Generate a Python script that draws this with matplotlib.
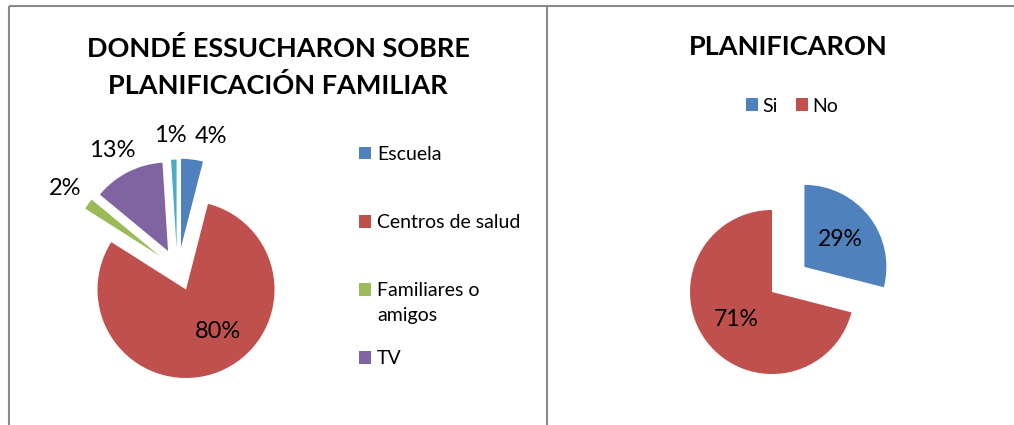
import matplotlib
matplotlib.use("Agg")
import matplotlib.pyplot as plt
import numpy as np

# --------------------------------------------------
# data
# --------------------------------------------------
fuente_labels = ["Escuela", "Centros de salud", "Familiares o\namigos", "TV", "Otros"]
fuente_pct = [4, 80, 2, 13, 1]
fuente_in_legend = 4  # only the first four entries show in the legend

plan_labels = ["Si", "No"]
plan_pct = [29, 71]

title_left = "DONDÉ ESSUCHARON SOBRE\nPLANIFICACIÓN FAMILIAR"
title_right = "PLANIFICARON"

# --------------------------------------------------
# style
# --------------------------------------------------
W, H = 1014, 425
FONT = ["Lato", "DejaVu Sans"]
plt.rcParams["font.family"] = FONT

colors_left = ["#4F81BD", "#C0504D", "#9BBB59", "#8064A2", "#4BACC6"]
colors_right = ["#4F81BD", "#C0504D"]
border = "#8a8a8a"

# outside labels: angular nudge (deg) and distance (in radii)
label_shift_left = [-2, 0, -4, 1, 4]
label_dist_left = [1.75, 0, 1.78, 1.78, 1.75]
# excel pushes the exploded slices slightly off their bisector (deg)
explode_rot_left = [14, 0, -16, -2, 11]

fig = plt.figure(figsize=(W / 100, H / 100), dpi=100)
ax = fig.add_axes([0, 0, 1, 1])


def ypix(y_img):
    # image rows (top down) -> data y (bottom up)
    return H - y_img


# --------------------------------------------------
# left pie
# --------------------------------------------------
r_left = 88.5
c_left = (186, ypix(289.5))
expl_frac = 0.48
expl_left = [0 if p == max(fuente_pct) else expl_frac * r_left for p in fuente_pct]

wedges_l, _, auto_l = ax.pie(
    fuente_pct, explode=expl_left, colors=colors_left, startangle=90,
    counterclock=False, center=c_left, radius=r_left,
    autopct="%1.0f%%", pctdistance=1.3,
    wedgeprops=dict(linewidth=0), textprops=dict(fontsize=17, color="black"),
)
big = int(np.argmax(fuente_pct))
for i, (w, t) in enumerate(zip(wedges_l, auto_l)):
    bis = (w.theta1 + w.theta2) / 2
    if i == big:
        # the big slice keeps its label inside
        mid = np.deg2rad(bis + 16)
        t.set_position((w.center[0] + 0.6 * r_left * np.cos(mid),
                        w.center[1] + 0.6 * r_left * np.sin(mid)))
        continue
    ang = np.deg2rad(bis + explode_rot_left[i])
    w.set_center((c_left[0] + expl_left[i] * np.cos(ang),
                  c_left[1] + expl_left[i] * np.sin(ang)))
    mid = np.deg2rad(bis + label_shift_left[i])
    t.set_position((c_left[0] + label_dist_left[i] * r_left * np.cos(mid),
                    c_left[1] + label_dist_left[i] * r_left * np.sin(mid)))

# --------------------------------------------------
# right pie
# --------------------------------------------------
r_right = 82
c_right = (772, ypix(292))
expl_right = [0.5 * r_right, 0]

wedges_r, _, auto_r = ax.pie(
    plan_pct, explode=expl_right, colors=colors_right, startangle=90,
    counterclock=False, center=c_right, radius=r_right,
    autopct="%1.0f%%", pctdistance=0.55,
    wedgeprops=dict(linewidth=0), textprops=dict(fontsize=16.5, color="black"),
)

ax.set_xlim(0, W)
ax.set_ylim(0, H)
ax.set_aspect("equal")
ax.axis("off")

# --------------------------------------------------
# titles
# --------------------------------------------------
ax.text(278, ypix(67), title_left, ha="center", va="center", fontsize=19.5,
        fontweight="bold", linespacing=1.6)
ax.text(788, ypix(47), title_right, ha="center", va="center", fontsize=19.5,
        fontweight="bold")

# --------------------------------------------------
# legends
# --------------------------------------------------
first_lines = [l.split("\n")[0] for l in fuente_labels[:fuente_in_legend]]
leg_l = ax.legend(
    wedges_l[:fuente_in_legend], first_lines, loc="upper left",
    bbox_to_anchor=(359, ypix(146)), bbox_transform=ax.transData,
    frameon=False, fontsize=14, handlelength=0.62, handleheight=0.62,
    handletextpad=0.3, labelspacing=2.63, borderpad=0, borderaxespad=0,
)
ax.add_artist(leg_l)

ax.legend(
    wedges_r, plan_labels, loc="center", ncol=2,
    bbox_to_anchor=(792, ypix(106)), bbox_transform=ax.transData,
    frameon=False, fontsize=14, handlelength=0.62, handleheight=0.62,
    handletextpad=0.25, columnspacing=0.9, borderpad=0, borderaxespad=0,
)

# continuation lines of wrapped legend labels
fig.canvas.draw()
for txt, full in zip(leg_l.get_texts(), fuente_labels):
    rest = full.split("\n")[1:]
    if rest:
        bb = txt.get_window_extent()
        ax.text(bb.x0, bb.y0 - 8, "\n".join(rest), ha="left", va="top",
                fontsize=14, transform=None)

# --------------------------------------------------
# frame lines
# --------------------------------------------------
ax.plot([9, W], [ypix(6), ypix(6)], color=border, lw=1.5, solid_capstyle="butt")
ax.plot([9, 9], [ypix(6), 0], color=border, lw=1.5, solid_capstyle="butt")
ax.plot([546.5, 546.5], [ypix(6), 0], color=border, lw=1.5, solid_capstyle="butt")

fig.savefig("out.png", dpi=100)
